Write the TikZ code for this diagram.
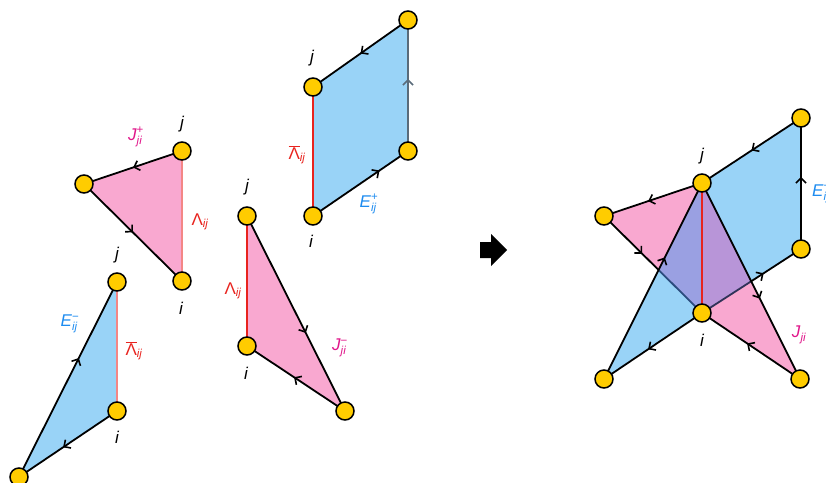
\documentclass[tikz,border=0pt]{standalone}
\usepackage{fontspec}
\setmainfont{Liberation Sans}
\usetikzlibrary{decorations.markings,arrows.meta,calc}
\definecolor{pk}{HTML}{F9A8D0}
\definecolor{bl}{HTML}{99D3F7}
\definecolor{ovl}{HTML}{9AA0E2}
\definecolor{ovr}{HTML}{B895D8}
\definecolor{nd}{HTML}{FFCC00}
\definecolor{rd}{HTML}{E8231E}
\definecolor{lrd}{HTML}{F48686}
\definecolor{mg}{HTML}{E0168A}
\definecolor{eb}{HTML}{1E8CF0}
\definecolor{gedge}{HTML}{5A6B7A}
\definecolor{navy}{HTML}{2B4C7E}
\definecolor{dnavy}{HTML}{303358}
\newcommand\scr[1]{\mbox{\fontsize{11.5}{12}\selectfont #1}}
\newcommand\labJ[1]{\textit{J}$^{\scr{#1}}_{\scr{\itshape ji}}$}
\newcommand\labE[1]{\textit{E}$^{\scr{#1}}_{\scr{\itshape ij}}$}
\newcommand\labL{Λ$_{\scr{\itshape ij}}$}
\newcommand\labLb{$\overline{\mbox{Λ}}_{\scr{\itshape ij}}$}
\tikzset{
  vtx/.style={circle,fill=nd,draw=black,line width=1.5pt,minimum size=18pt,inner sep=0pt},
  edg/.style={draw=black,line width=1.8pt},
  marr/.style={postaction={decorate},decoration={markings,mark=at position #1 with {\arrow{Straight Barb[length=5pt,width=10pt,line width=1.6pt]}}}},
  lbl/.style={font=\fontsize{17}{19}\selectfont\itshape,inner sep=0pt},
  glbl/.style={font=\fontsize{17}{19}\selectfont,inner sep=0pt},
}
\begin{document}
\begin{tikzpicture}[x=1pt,y=-1pt]
\useasboundingbox (0,0) rectangle (826,482);
% ---------- coordinates
\coordinate (Aj) at (182,151); \coordinate (Al) at (84,184); \coordinate (Ai) at (182,281);
\coordinate (Bi) at (313,216); \coordinate (Bj) at (313,87); \coordinate (Btr) at (408,20); \coordinate (Br) at (408,151);
\coordinate (Cj) at (247,216); \coordinate (Ci) at (247,346); \coordinate (Cbr) at (345,411);
\coordinate (Dj) at (117,282); \coordinate (Di) at (117,411); \coordinate (Dbl) at (19,477);
\coordinate (j) at (702,183); \coordinate (i) at (702,313); \coordinate (tr) at (801,118);
\coordinate (r) at (801,249); \coordinate (l) at (604,216); \coordinate (bl) at (604,379); \coordinate (br) at (800,379);
\coordinate (P) at (intersection of l--i and bl--j);
\coordinate (Q) at (intersection of i--r and j--br);
% ---------- fills
\fill[pk] (Aj) -- (Al) -- (Ai) -- cycle;
\fill[bl] (Bi) -- (Br) -- (Btr) -- (Bj) -- cycle;
\fill[pk] (Cj) -- (Ci) -- (Cbr) -- cycle;
\fill[bl] (Dj) -- (Di) -- (Dbl) -- cycle;
\fill[pk] (j) -- (l) -- (i) -- cycle;
\fill[pk] (j) -- (i) -- (br) -- cycle;
\fill[bl] (i) -- (r) -- (tr) -- (j) -- cycle;
\fill[bl] (j) -- (i) -- (bl) -- cycle;
\fill[ovl] (j) -- (P) -- (i) -- cycle;
\fill[ovr] (j) -- (Q) -- (i) -- cycle;
% ---------- edges
\draw[edg,marr=0.5] (Aj) -- (Al);
\draw[edg,marr=0.5] (Al) -- (Ai);
\draw[lrd,line width=1.5pt] (Aj) -- (Ai);
\draw[edg,marr=0.7] (Bi) -- (Br);
\draw[edg,draw=gedge,marr=0.55] (Br) -- (Btr);
\draw[edg,marr=0.5] (Btr) -- (Bj);
\draw[rd,line width=1.5pt] (Bj) -- (Bi);
\draw[edg,marr=0.6] (Cj) -- (Cbr);
\draw[edg,marr=0.52] (Cbr) -- (Ci);
\draw[rd,line width=1.7pt] (Cj) -- (Ci);
\draw[edg,marr=0.61] (Dbl) -- (Dj);
\draw[edg,marr=0.55] (Di) -- (Dbl);
\draw[lrd,line width=1.5pt] (Dj) -- (Di);
% combined
\draw[edg,marr=0.5] (tr) -- (j);
\draw[edg,marr=0.55] (r) -- (tr);
\draw[edg,marr=0.55] (j) -- (l);
\draw[edg,marr=0.7] (l) -- (P);
\draw[navy,line width=1.8pt] (P) -- (i);
\draw[edg,marr=0.62] (bl) -- (j);
\draw[dnavy,line width=1.8pt] (i) -- (Q);
\draw[edg,marr=0.25] (Q) -- (r);
\draw[edg,marr=0.59] (j) -- (br);
\draw[edg,marr=0.54] (br) -- (i);
\draw[edg,marr=0.55] (i) -- (bl);
\draw[rd,line width=1.7pt] (j) -- (i);
% ---------- vertices
\foreach \v in {Aj,Al,Ai,Bi,Bj,Btr,Br,Cj,Ci,Cbr,Dj,Di,Dbl,j,i,tr,r,l,bl,br}
  \node[vtx] (n\v) at (\v) {};
% ---------- labels
\node[lbl] (tAj) at (182,124) {j};
\node[lbl] (tAi) at (181,308) {i};
\node[glbl,text=mg] (tAJ) at (136,137) {\labJ{+}};
\node[glbl,text=rd] (tAL) at (200,222) {\labL};
\node[lbl] (tBj) at (312,58) {j};
\node[lbl] (tBi) at (311,241) {i};
\node[glbl,text=rd] (tBL) at (297,155) {\labLb};
\node[glbl,text=eb] (tBE) at (369,204) {\labE{+}};
\node[lbl] (tCj) at (247,187) {j};
\node[lbl] (tCi) at (246,373) {i};
\node[glbl,text=rd] (tCL) at (233,291) {\labL};
\node[glbl,text=mg] (tCJ) at (340,348) {\labJ{−}};
\node[lbl] (tDj) at (117,255) {j};
\node[lbl] (tDi) at (117,437) {i};
\node[glbl,text=eb] (tDE) at (70,324) {\labE{−}};
\node[glbl,text=rd] (tDL) at (134,351) {\labLb};
\node[lbl] (tj) at (702,156) {j};
\node[lbl] (ti) at (702,340) {i};
\node[glbl,text=eb,anchor=west] (tE) at (812,193) {\labE{+}};
\node[glbl,text=mg] (tJ) at (799,335) {\labJ{}};
% ---------- big arrow
\fill[black] (480,242) -- (491,242) -- (491,234) -- (507,250) -- (491,266) -- (491,258) -- (480,258) -- cycle;
\end{tikzpicture}
\end{document}
